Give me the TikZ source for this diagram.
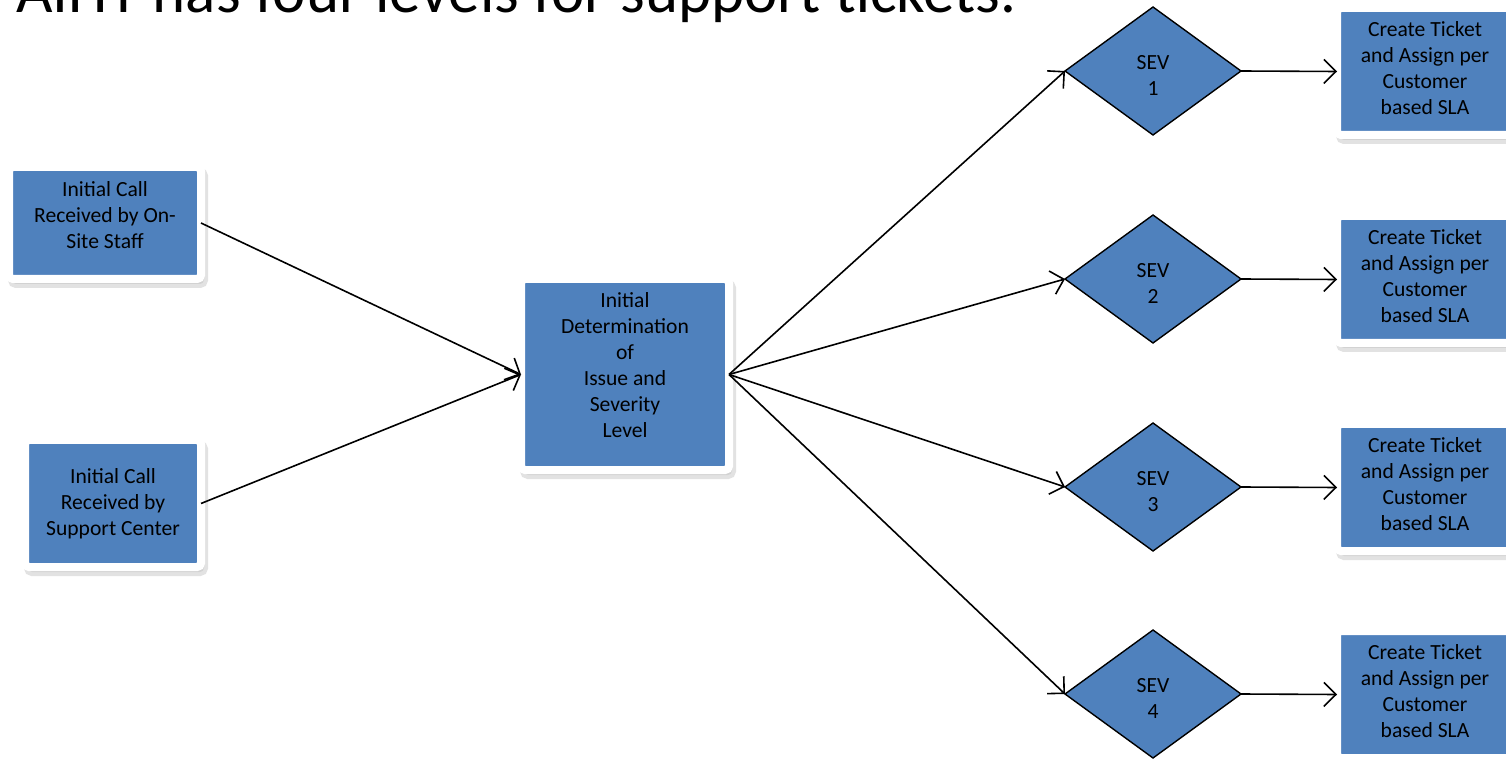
\documentclass[tikz,border=0pt]{standalone}
\usepackage{fontspec}
\setmainfont{Carlito}
\usetikzlibrary{shapes.geometric,shadows,arrows.meta}
\definecolor{boxblue}{HTML}{4F81BD}
\newcommand\boxfont{\fontsize{10.8}{13}\selectfont}
\newcommand\slidetitlefont{\fontsize{31.5}{36}\selectfont}

\begin{document}
\begin{tikzpicture}[x=0.5pt, y=-0.5pt,
	card/.style={rectangle, rounded corners=2pt, fill=boxblue, draw=white, line width=4pt,
		outer sep=0pt, align=center, font=\boxfont,
		drop shadow={shadow xshift=1.5pt, shadow yshift=-2.5pt, fill=black!25, draw=black!25, line width=4pt, opacity=0.45}},
	sev/.style={diamond, fill=boxblue, draw=black, line width=0.7pt, minimum width=88pt,
		minimum height=64pt, inner sep=0pt, outer sep=0pt, align=center, font=\boxfont},
	flow/.style={-{Straight Barb[length=6pt, width=12pt]}, line width=0.8pt}]
	\useasboundingbox (0,0) rectangle (1506,759);
	\clip (0,0) rectangle (1506,759);
	\node[anchor=base west, font=\slidetitlefont, inner sep=0pt] (title) at (16,13) {AIHT has four levels for support tickets.};
	% incoming calls
	\node[card, minimum width=96pt, minimum height=56pt, text depth=8pt] (onsite) at (105,223) {Initial Call\\Received by On-\\Site Staff};
	\node[card, minimum width=88pt, minimum height=63.5pt] (center) at (113,503.5) {Initial Call\\Received by\\Support Center};
	\node[card, minimum width=104pt, minimum height=95.5pt, text depth=9pt] (determine) at (625,374.5) {Initial\\Determination\\of\\Issue and\\Severity\\Level};
	\draw[flow] (onsite.east) -- (determine.west);
	\draw[flow] (center.east) -- (determine.west);
	% severity levels
	\foreach \n/\y in {1/71,2/279,3/487,4/694} {
		\node[sev, text height=24.5pt] (sev\n) at (1153,\y) {SEV\\\n};
		\node[card, minimum width=88pt, minimum height=63.5pt, text depth=3.5pt] (ticket\n) at (1425,\y+0.5) {Create Ticket\\and Assign per\\Customer\\based SLA};
		\draw[flow] (determine.east) -- (sev\n.west);
		\draw[flow] (sev\n.east) -- (ticket\n.west);
	}
\end{tikzpicture}
\end{document}
